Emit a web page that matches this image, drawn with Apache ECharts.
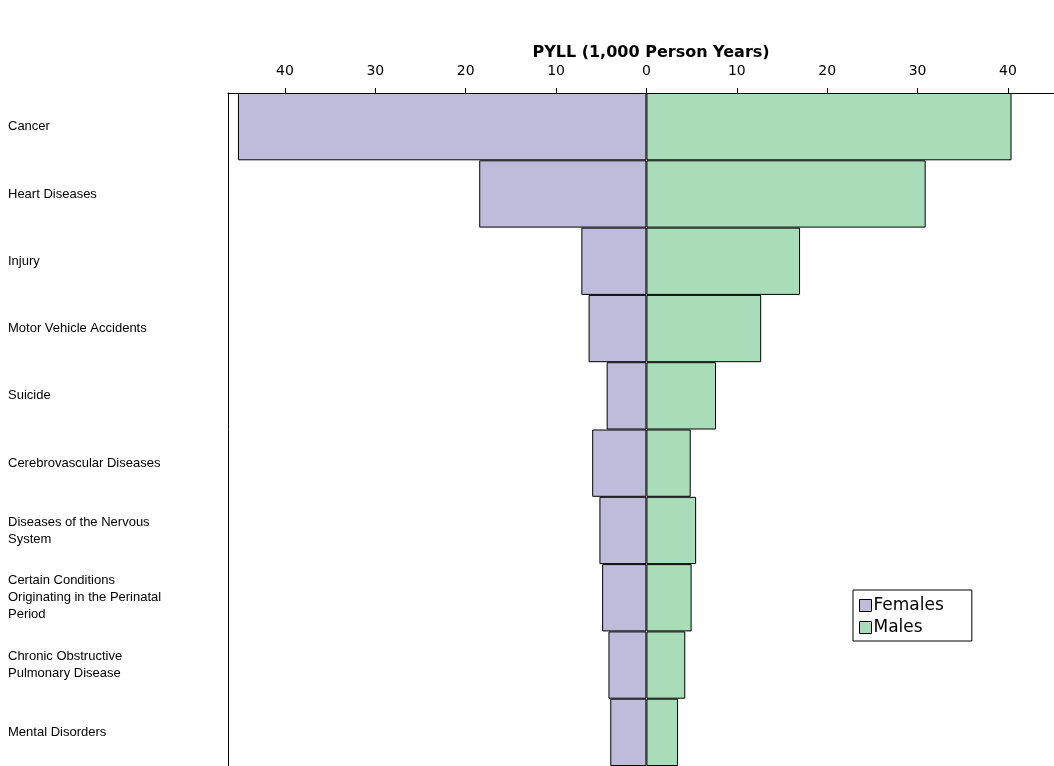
<!DOCTYPE html>
<html>
<head>
<meta charset="utf-8">
<script src="https://cdn.jsdelivr.net/npm/echarts@6/dist/echarts.min.js"></script>
<style>html,body{margin:0;padding:0;background:#fff}#main{width:1054px;height:766px}</style>
</head>
<body>
<div id="main"></div>
<script>
// 类别
var causes = ['Cancer', 'Heart Diseases', 'Injury', 'Motor Vehicle Accidents', 'Suicide',
  'Cerebrovascular Diseases', 'Diseases of the Nervous\nSystem',
  'Certain Conditions\nOriginating in the Perinatal\nPeriod',
  'Chronic Obstructive\nPulmonary Disease', 'Mental Disorders'];
// PYLL (1,000 person years)
var females = [45.2, 18.5, 7.2, 6.4, 4.4, 6.0, 5.2, 4.9, 4.2, 4.0];
var males = [40.4, 30.9, 17.0, 12.7, 7.7, 4.9, 5.5, 5.0, 4.3, 3.5];
// 刻度
var ticks = [-40, -30, -20, -10, 0, 10, 20, 30, 40];

var myChart = echarts.init(document.getElementById('main'));
var option = {
  animation: false,
  title: {
    text: 'PYLL (1,000 Person Years)',
    left: 646, top: 40, textAlign: 'center',
    textStyle: {fontFamily: 'DejaVu Sans', fontSize: 16, fontWeight: 'bold', color: '#000'}
  },
  legend: {
    data: ['Females', 'Males'],
    orient: 'vertical',
    icon: 'rect',
    left: 853, top: 590,
    padding: [7, 28, 5, 6],
    itemWidth: 12, itemHeight: 12, itemGap: 5,
    borderColor: '#000', borderWidth: 1, borderRadius: 0,
    itemStyle: {borderColor: '#000', borderWidth: 1},
    textStyle: {fontFamily: 'DejaVu Sans', fontSize: 17, color: '#000', padding: [0, 0, 0, -3]}
  },
  grid: {left: 228, right: 0, top: 93, bottom: 0},
  xAxis: {
    type: 'value',
    position: 'top',
    min: -46.3, max: 45.1,
    splitLine: {show: false},
    axisLine: {show: true, lineStyle: {color: '#000'}},
    axisTick: {show: true, length: 5, customValues: ticks, lineStyle: {color: '#000'}},
    axisLabel: {
      customValues: ticks,
      fontFamily: 'DejaVu Sans', fontSize: 14, color: '#000', margin: 15,
      formatter: function (v) { return Math.abs(v); }
    }
  },
  yAxis: {
    type: 'category',
    inverse: true,
    data: causes,
    axisLine: {show: true, onZero: false, lineStyle: {color: '#000'}},
    axisTick: {show: false},
    axisLabel: {
      align: 'left', margin: 220, color: '#000',
      fontFamily: 'Liberation Sans', fontSize: 13, lineHeight: 17
    }
  },
  series: [
    {
      name: 'Females', type: 'bar', stack: 'pyll', barWidth: '100%',
      itemStyle: {color: '#BFBBDB', borderColor: '#000', borderWidth: 1},
      data: females.map(function (v) { return -v; })
    },
    {
      name: 'Males', type: 'bar', stack: 'pyll', barWidth: '100%',
      itemStyle: {color: '#A9DDB9', borderColor: '#000', borderWidth: 1},
      data: males
    }
  ]
};
myChart.setOption(option);
</script>
</body>
</html>
